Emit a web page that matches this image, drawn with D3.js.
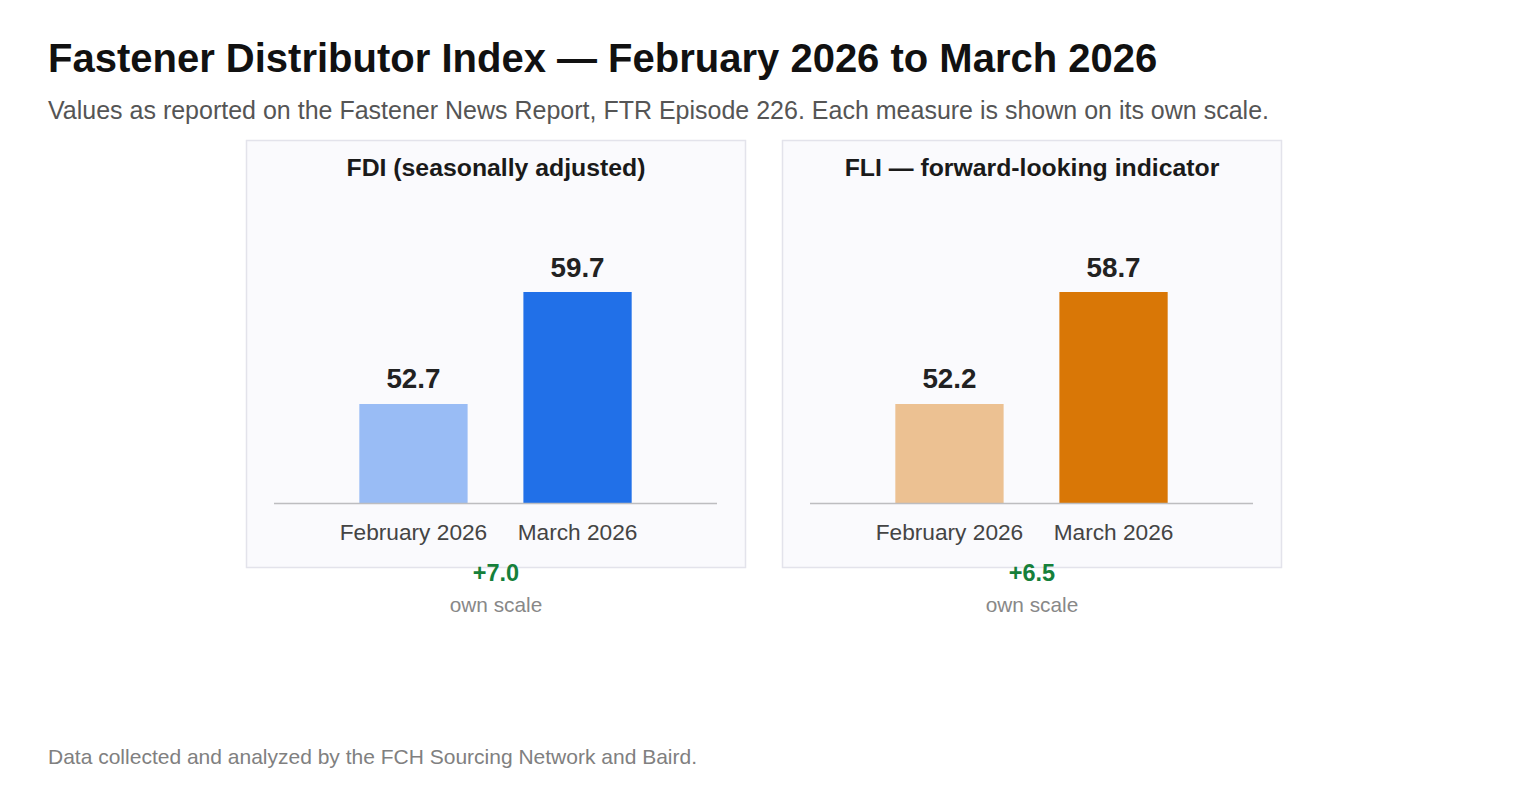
<!DOCTYPE html>
<html>
<head>
<meta charset="utf-8">
<script src="https://cdn.jsdelivr.net/npm/d3@7"></script>
<style>
  html, body { margin: 0; padding: 0; background: #fff; }
  svg { display: block; font-family: "Liberation Sans", Arial, Helvetica, sans-serif; }
</style>
</head>
<body>
<svg id="chart" width="1528" height="796"></svg>
<script>
// data
const months = ['February 2026', 'March 2026'];
const panelTitles = ['FDI (seasonally adjusted)', 'FLI \u2014 forward-looking indicator'];
const fdiValues = [52.7, 59.7];
const fliValues = [52.2, 58.7];
const panelColors = [['#99bcf5', '#2170e8'], ['#ecc192', '#d97706']];

const W = 1528, H = 796;
const svg = d3.select('#chart');

svg.append('text').attr('x', 48).attr('y', 72)
  .attr('font-size', 40).attr('font-weight', 700).attr('fill', '#111')
  .text('Fastener Distributor Index \u2014 February 2026 to March 2026');
svg.append('text').attr('x', 48).attr('y', 119)
  .attr('font-size', 25).attr('fill', '#555')
  .text('Values as reported on the Fastener News Report, FTR Episode 226. Each measure is shown on its own scale.');
svg.append('text').attr('x', 48).attr('y', 764)
  .attr('font-size', 21).attr('fill', '#808080')
  .text('Data collected and analyzed by the FCH Sourcing Network and Baird.');

const panels = [fdiValues, fliValues];
const panelW = 500, panelH = 428, panelTop = 140, gap = 36, firstX = 246;
const baseline = 503, barTop = 292;

panels.forEach((vals, i) => {
  const px = firstX + i * (panelW + gap);
  const g = svg.append('g').attr('transform', `translate(${px},${panelTop})`);
  g.append('rect').attr('x', 0.5).attr('y', 0.5).attr('width', panelW - 1).attr('height', panelH - 1)
    .attr('fill', '#fafafd').attr('stroke', '#e3e3eb').attr('stroke-width', 1.5);

  g.append('text').attr('x', panelW / 2).attr('y', 36).attr('text-anchor', 'middle')
    .attr('font-size', 24.8).attr('font-weight', 700).attr('fill', '#1a1a1a')
    .text(panelTitles[i]);

  // each measure on its own scale
  const lo = d3.min(vals), hi = d3.max(vals);
  const span = hi - lo;
  const y = d3.scaleLinear().domain([lo - 0.884 * span, hi]).range([baseline - panelTop, barTop - panelTop]);
  const x = d3.scaleBand().domain(months).range([28, panelW - 29]).paddingInner(0.34).paddingOuter(0.52);

  g.selectAll('rect.bar').data(vals).join('rect').attr('class', 'bar')
    .attr('x', (d, j) => x(months[j]))
    .attr('y', d => y(d))
    .attr('width', x.bandwidth())
    .attr('height', d => y.range()[0] - y(d))
    .attr('fill', (d, j) => panelColors[i][j]);

  g.append('line').attr('x1', 28).attr('x2', panelW - 29)
    .attr('y1', y.range()[0] + 0.5).attr('y2', y.range()[0] + 0.5)
    .attr('stroke', '#bdbdc0').attr('stroke-width', 1.5);

  g.selectAll('text.val').data(vals).join('text').attr('class', 'val')
    .attr('x', (d, j) => x(months[j]) + x.bandwidth() / 2)
    .attr('y', d => y(d) - 15.5)
    .attr('text-anchor', 'middle').attr('font-size', 27.8).attr('font-weight', 700).attr('fill', '#222')
    .text(d => d.toFixed(1));

  g.selectAll('text.cat').data(months).join('text').attr('class', 'cat')
    .attr('x', d => x(d) + x.bandwidth() / 2)
    .attr('y', baseline - panelTop + 37)
    .attr('text-anchor', 'middle').attr('font-size', 22.7).attr('fill', '#444')
    .text(d => d);

  const delta = vals[1] - vals[0];
  g.append('text').attr('x', panelW / 2).attr('y', 440.5).attr('text-anchor', 'middle')
    .attr('font-size', 23.5).attr('font-weight', 700).attr('fill', '#16803a')
    .text((delta >= 0 ? '+' : '') + delta.toFixed(1));
  g.append('text').attr('x', panelW / 2).attr('y', 471.5).attr('text-anchor', 'middle')
    .attr('font-size', 20.8).attr('fill', '#888')
    .text('own scale');
});
</script>
</body>
</html>
